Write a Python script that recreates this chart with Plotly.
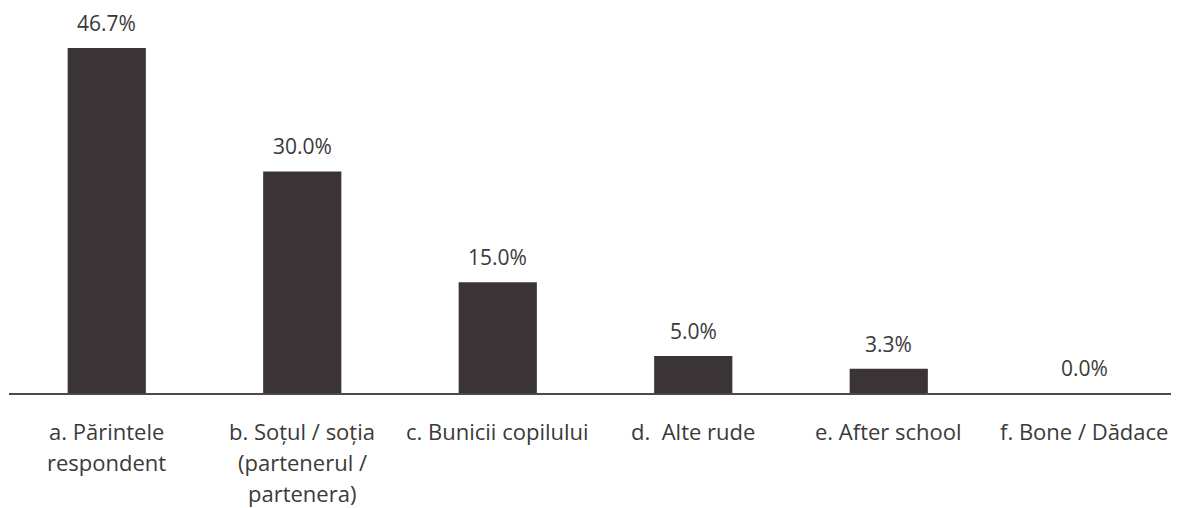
import plotly.graph_objects as go

categories = ["a. Părintele<br>respondent", "b. Soțul / soția<br>(partenerul /<br>partenera)",
              "c. Bunicii copilului", "d.  Alte rude", "e. After school", "f. Bone / Dădace"]
values = [46.7, 30.0, 15.0, 5.0, 3.3, 0.0]
value_labels = ["46.7%", "30.0%", "15.0%", "5.0%", "3.3%", "0.0%"]

FONT = "'Open Sans', sans-serif"
TXT = "#3a3a3a"

fig = go.Figure(go.Bar(x=categories, y=values, marker_color="#3b3436",
                       marker_line_width=0, width=0.4))

ann = []
for c, v, t in zip(categories, values, value_labels):
    ann.append(dict(x=c, y=v, xref="x", yref="y", text=t, showarrow=False,
                    yanchor="middle", yshift=25, font=dict(family=FONT, size=21, color=TXT)))
    for i, line in enumerate(c.split("<br>")):
        ann.append(dict(x=c, y=0, xref="x", yref="y", text=line, showarrow=False,
                        yanchor="middle", yshift=-38 - 31 * i,
                        font=dict(family=FONT, size=22, color=TXT)))

fig.update_layout(
    width=1179, height=508,
    margin=dict(l=1, r=5, t=12, b=123),
    paper_bgcolor="white", plot_bgcolor="white",
    showlegend=False, bargap=0.6,
    xaxis=dict(showticklabels=False, ticks="", showgrid=False, zeroline=False,
               showline=True, linecolor="#4a4a4a", linewidth=2),
    yaxis=dict(range=[0, 50.5], visible=False, showgrid=False, zeroline=False),
    annotations=ann,
)

fig.write_html("out.html")
